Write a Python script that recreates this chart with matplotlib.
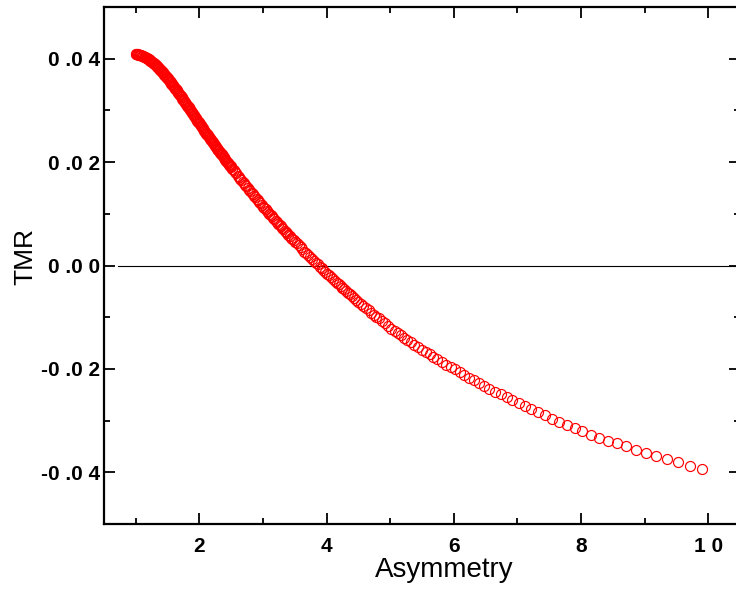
import numpy as np
import matplotlib
matplotlib.use('Agg')
import matplotlib.pyplot as plt
from matplotlib.ticker import MultipleLocator

plt.rcParams['font.family'] = ['Liberation Sans', 'DejaVu Sans']

# Asymmetry / TMR values, split by region
asym_a = [1.00, 1.01, 1.02, 1.03, 1.04, 1.05, 1.06, 1.07, 1.08, 1.09,
          1.10, 1.11, 1.12, 1.13, 1.14, 1.15, 1.16, 1.17, 1.18, 1.19,
          1.20, 1.21, 1.22, 1.23, 1.24, 1.25, 1.26, 1.27, 1.28, 1.29,
          1.30, 1.31, 1.32, 1.33, 1.34, 1.35, 1.36, 1.37, 1.38, 1.39,
          1.40, 1.41, 1.42, 1.43, 1.44, 1.45, 1.46, 1.47, 1.48, 1.49]
tmr_a = [0.0409, 0.0409, 0.0409, 0.0409, 0.0408, 0.0408, 0.0408, 0.0407, 0.0407, 0.0406,
         0.0406, 0.0405, 0.0405, 0.0404, 0.0404, 0.0403, 0.0402, 0.0401, 0.0401, 0.0400,
         0.0399, 0.0398, 0.0397, 0.0396, 0.0395, 0.0394, 0.0393, 0.0392, 0.0391, 0.0390,
         0.0389, 0.0388, 0.0387, 0.0386, 0.0384, 0.0383, 0.0382, 0.0380, 0.0379, 0.0378,
         0.0377, 0.0375, 0.0374, 0.0372, 0.0371, 0.0369, 0.0368, 0.0366, 0.0365, 0.0363]

asym_b = [1.50, 1.51, 1.52, 1.53, 1.54, 1.55, 1.56, 1.57, 1.58, 1.59,
          1.60, 1.61, 1.62, 1.63, 1.64, 1.65, 1.66, 1.67, 1.68, 1.69,
          1.70, 1.71, 1.72, 1.73, 1.74, 1.75, 1.76, 1.77, 1.78, 1.79,
          1.80, 1.81, 1.82, 1.83, 1.84, 1.85, 1.86, 1.87, 1.88, 1.89,
          1.90, 1.91, 1.92, 1.93, 1.94, 1.95, 1.96, 1.97, 1.98, 1.99]
tmr_b = [0.0362, 0.0360, 0.0359, 0.0357, 0.0355, 0.0354, 0.0352, 0.0351, 0.0349, 0.0347,
         0.0346, 0.0344, 0.0342, 0.0341, 0.0339, 0.0337, 0.0336, 0.0334, 0.0332, 0.0330,
         0.0329, 0.0327, 0.0325, 0.0323, 0.0322, 0.0320, 0.0318, 0.0316, 0.0314, 0.0313,
         0.0311, 0.0309, 0.0307, 0.0306, 0.0304, 0.0302, 0.0300, 0.0298, 0.0296, 0.0295,
         0.0293, 0.0291, 0.0289, 0.0288, 0.0286, 0.0284, 0.0282, 0.0280, 0.0278, 0.0277]

asym_c = [2.00, 2.01, 2.02, 2.03, 2.04, 2.05, 2.06, 2.07, 2.08, 2.09,
          2.10, 2.11, 2.12, 2.13, 2.14, 2.15, 2.16, 2.17, 2.18, 2.19,
          2.20, 2.21, 2.22, 2.23, 2.24, 2.25, 2.26, 2.27, 2.28, 2.29,
          2.30, 2.31, 2.32, 2.33, 2.34, 2.35, 2.36, 2.37, 2.38, 2.39,
          2.40, 2.41, 2.42, 2.43, 2.44, 2.45, 2.46, 2.47, 2.48, 2.49]
tmr_c = [0.0275, 0.0273, 0.0271, 0.0270, 0.0268, 0.0266, 0.0264, 0.0263, 0.0261, 0.0259,
         0.0257, 0.0255, 0.0254, 0.0252, 0.0250, 0.0249, 0.0247, 0.0245, 0.0243, 0.0242,
         0.0240, 0.0238, 0.0236, 0.0235, 0.0233, 0.0231, 0.0230, 0.0228, 0.0226, 0.0224,
         0.0223, 0.0221, 0.0219, 0.0218, 0.0216, 0.0215, 0.0213, 0.0211, 0.0210, 0.0208,
         0.0206, 0.0205, 0.0203, 0.0201, 0.0200, 0.0198, 0.0196, 0.0195, 0.0193, 0.0192]

asym_d = [2.50, 2.52, 2.54, 2.56, 2.58, 2.60, 2.62, 2.64, 2.66, 2.68,
          2.70, 2.72, 2.74, 2.76, 2.78, 2.80, 2.82, 2.84, 2.86, 2.88,
          2.90, 2.92, 2.94, 2.96, 2.98, 3.00, 3.02, 3.04, 3.06, 3.08,
          3.10, 3.12, 3.14, 3.16, 3.18, 3.20, 3.22, 3.24, 3.26, 3.28,
          3.30, 3.32, 3.34, 3.36, 3.38, 3.40, 3.42, 3.44, 3.46, 3.48]
tmr_d = [0.0190, 0.0187, 0.0184, 0.0181, 0.0178, 0.0174, 0.0171, 0.0168, 0.0165, 0.0162,
         0.0159, 0.0156, 0.0153, 0.0150, 0.0147, 0.0144, 0.0141, 0.0138, 0.0135, 0.0132,
         0.0129, 0.0126, 0.0123, 0.0120, 0.0117, 0.0114, 0.0112, 0.0109, 0.0106, 0.0103,
         0.0100, 0.0097, 0.0095, 0.0092, 0.0089, 0.0086, 0.0084, 0.0081, 0.0078, 0.0076,
         0.0073, 0.0070, 0.0067, 0.0065, 0.0062, 0.0059, 0.0057, 0.0054, 0.0051, 0.0049]

asym_e = [3.50, 3.53, 3.56, 3.59, 3.62, 3.65, 3.68, 3.71, 3.74, 3.77, 3.80,
          3.83, 3.86, 3.89, 3.92, 3.95, 3.98, 4.01, 4.04, 4.07, 4.10, 4.13,
          4.16, 4.19, 4.22, 4.25, 4.28, 4.31, 4.34, 4.37, 4.40, 4.43, 4.46]
tmr_e = [0.0046, 0.0043, 0.0039, 0.0035, 0.0031, 0.0027, 0.0024, 0.0020, 0.0016, 0.0013, 0.0009,
         0.0005, 0.0002, -0.0002, -0.0005, -0.0009, -0.0012, -0.0016, -0.0019, -0.0023, -0.0026, -0.0030,
         -0.0033, -0.0036, -0.0040, -0.0043, -0.0046, -0.0050, -0.0053, -0.0056, -0.0059, -0.0062, -0.0066]

asym_f = [4.50, 4.54, 4.58, 4.62, 4.66, 4.70, 4.74, 4.78, 4.82, 4.87,
          4.92, 4.97, 5.02, 5.07, 5.12, 5.17, 5.22, 5.27, 5.32, 5.38,
          5.44, 5.50, 5.56, 5.62, 5.68, 5.74, 5.81, 5.88, 5.95]
tmr_f = [-0.0070, -0.0074, -0.0078, -0.0082, -0.0087, -0.0091, -0.0095, -0.0099, -0.0102, -0.0107,
         -0.0112, -0.0117, -0.0122, -0.0127, -0.0131, -0.0135, -0.0140, -0.0144, -0.0148, -0.0153,
         -0.0158, -0.0163, -0.0168, -0.0172, -0.0177, -0.0181, -0.0187, -0.0192, -0.0197]

asym_g = [6.02, 6.09, 6.16, 6.24, 6.32, 6.40, 6.48, 6.56, 6.65, 6.74,
          6.83, 6.92, 7.02, 7.12, 7.22, 7.33, 7.44, 7.55, 7.66, 7.78,
          7.90, 8.02, 8.15, 8.28, 8.42, 8.56, 8.70, 8.86, 9.02, 9.18,
          9.35, 9.52, 9.71, 9.90]
tmr_g = [-0.0201, -0.0206, -0.0211, -0.0217, -0.0222, -0.0227, -0.0233, -0.0238, -0.0244, -0.0249,
         -0.0255, -0.0260, -0.0266, -0.0272, -0.0278, -0.0284, -0.0290, -0.0297, -0.0303, -0.0309,
         -0.0315, -0.0321, -0.0327, -0.0333, -0.0339, -0.0344, -0.0350, -0.0356, -0.0362, -0.0368,
         -0.0374, -0.0380, -0.0387, -0.0394]

asym = asym_a + asym_b + asym_c + asym_d + asym_e + asym_f + asym_g
tmr = tmr_a + tmr_b + tmr_c + tmr_d + tmr_e + tmr_f + tmr_g

x_ticks = [2, 4, 6, 8, 10]
x_ticklabels = ['2', '4', '6', '8', '1 0']
y_ticks = [-0.04, -0.02, 0.0, 0.02, 0.04]
y_ticklabels = ['-0 .0 4', '-0 .0 2', '0 .0 0', '0 .0 2', '0 .0 4']

fig = plt.figure(figsize=(7.36, 5.94), dpi=100)
# right edge of the frame sits just past the image edge, like the original
ax = fig.add_axes([104 / 736, 70 / 594, 636 / 736, 517 / 594])

ax.axhline(0, xmin=0.022, xmax=1, color='black', lw=0.8)
ax.plot(asym, tmr, 'o', mfc='none', mec='#ff0000', ms=7.2, mew=0.85)

ax.set_xlim(0.5, 10.5)
ax.set_ylim(-0.05, 0.05)
ax.set_xticks(x_ticks)
ax.set_xticklabels(x_ticklabels)
ax.set_yticks(y_ticks)
ax.set_yticklabels(y_ticklabels)
ax.xaxis.set_minor_locator(MultipleLocator(1))
ax.yaxis.set_minor_locator(MultipleLocator(0.01))

for s in ax.spines.values():
    s.set_linewidth(1.6)
ax.tick_params(which='both', direction='in', top=True, right=True, width=1.3)
ax.tick_params(which='major', length=8)
ax.tick_params(which='minor', length=4)
ax.tick_params(axis='x', pad=9, labelsize=15)
ax.tick_params(axis='y', pad=3, labelsize=15)
for lab in ax.get_xticklabels() + ax.get_yticklabels():
    lab.set_fontweight('bold')

ax.set_xlabel('Asymmetry', fontsize=20)
ax.set_ylabel('TMR', fontsize=19)
ax.xaxis.set_label_coords(0.535, -0.064)
ax.yaxis.set_label_coords(-0.105, 0.518)

fig.savefig('out.png', dpi=100)
